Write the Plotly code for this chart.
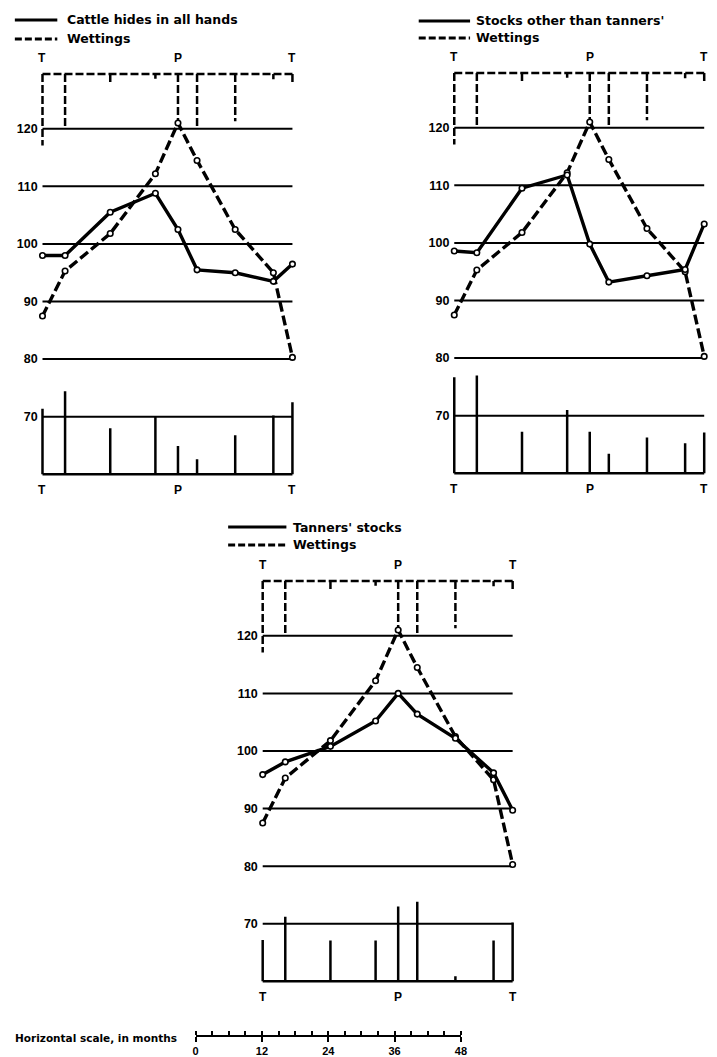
import plotly.graph_objects as go

# ---------------- data ----------------
stages = ["I", "II", "III", "IV", "V", "VI", "VII", "VIII", "IX"]
expansion_months = 24.5
contraction_months = 20.7

wettings = [87.5, 95.3, 101.8, 112.2, 121.0, 114.5, 102.5, 95.0, 80.3]
wettings_avg_dev = [12.4, 9.4, 1.9, 0.8, 9.0, 9.0, 8.2, 0.9, 1.7]

cattle_hides = [98.0, 98.0, 105.5, 108.8, 102.5, 95.5, 95.0, 93.5, 96.5]
cattle_hides_avg_dev = [11.4, 14.4, 8.0, 10.0, 4.9, 2.6, 6.8, 10.2, 12.5]

other_stocks = [98.6, 98.3, 109.5, 111.8, 99.8, 93.2, 94.3, 95.4, 103.3]
other_stocks_avg_dev = [16.7, 17.0, 7.2, 11.0, 7.2, 3.4, 6.2, 5.2, 7.1]

tanners_stocks = [95.9, 98.1, 100.8, 105.2, 110.0, 106.4, 102.2, 96.2, 89.7]
tanners_stocks_avg_dev = [7.2, 11.2, 7.1, 7.1, 13.0, 13.8, 0.9, 7.1, 10.2]

series_names = ["Cattle hides in all hands", "Stocks other than tanners'", "Tanners' stocks"]
series_values = [cattle_hides, other_stocks, tanners_stocks]
series_devs = [cattle_hides_avg_dev, other_stocks_avg_dev, tanners_stocks_avg_dev]

grid_levels = [70, 80, 90, 100, 110, 120]
grid_labels = ["70", "80", "90", "100", "110", "120"]
top_base = 129.5       # baseline from which wettings avg deviations hang
bottom_base = 60.0     # baseline from which stocks avg deviations rise
turn_labels = ["T", "P", "T"]
scale_ticks = [0, 12, 24, 36, 48]
scale_title = "Horizontal scale, in months"

# ---------------- layout constants ----------------
W, H = 717, 1057
PX_MONTH = 5.6
PX_UNIT = 5.77
XPAD = 0.7
Y_LO, Y_HI = 54, 134
FONT = "Liberation Sans"
FONT_WIDE = "DejaVu Sans"

# pixel anchor of (month 0, value 120) for each panel
anchors = [(40, 129), (457, 128), (263, 637)]
# legend: (line x0, line x1, y solid, y dashed, text x) in pixels
legend_pos = [(12, 55, 20, 39, 63), (421, 473, 21, 38, 477), (228, 287, 528, 546, 292)]

E, C = expansion_months, contraction_months
total = E + C
stage_x = [0, E / 6, E / 2, 5 * E / 6, E, E + C / 6, E + C / 2, E + 5 * C / 6, E + C]
turn_x = [0, E, total]

fig = go.Figure()
shapes = []
annotations = []


def px_x(p):
    return p / W


def px_y(p):
    return 1 - p / H


for i in range(3):
    n = i + 1
    xa = "x" if n == 1 else f"x{n}"
    ya = "y" if n == 1 else f"y{n}"
    ax0, ay0 = anchors[i]
    xd = [px_x(ax0 - XPAD * PX_MONTH), px_x(ax0 + (total + XPAD) * PX_MONTH)]
    yd = [px_y(ay0 + (120 - Y_LO) * PX_UNIT), px_y(ay0 - (Y_HI - 120) * PX_UNIT)]
    fig.update_layout(**{
        f"xaxis{'' if n == 1 else n}": dict(domain=xd, range=[-XPAD, total + XPAD], visible=False,
                                            anchor=ya, fixedrange=True),
        f"yaxis{'' if n == 1 else n}": dict(domain=yd, range=[Y_LO, Y_HI], anchor=xa,
                                            showgrid=False, zeroline=False, showline=False,
                                            ticks="", tickvals=grid_levels, ticktext=grid_labels,
                                            tickfont=dict(family=FONT, size=12.5, color="black",
                                                          weight="bold"),
                                            fixedrange=True),
    })

    # gridlines
    gx, gy = [], []
    for lv in grid_levels:
        gx += [0, total, None]
        gy += [lv, lv, None]
    fig.add_trace(go.Scatter(x=gx, y=gy, xaxis=xa, yaxis=ya, mode="lines",
                             line=dict(color="black", width=2), hoverinfo="skip",
                             showlegend=False))

    # top: wettings average deviations (dashed)
    tx, ty = [0, total, None], [top_base, top_base, None]
    for sx, d in zip(stage_x, wettings_avg_dev):
        tx += [sx, sx, None]
        ty += [top_base, top_base - d, None]
    fig.add_trace(go.Scatter(x=tx, y=ty, xaxis=xa, yaxis=ya, mode="lines",
                             line=dict(color="black", width=2.5, dash="8px,3px"),
                             hoverinfo="skip", showlegend=False))

    # bottom: stocks average deviations (solid)
    bx, by = [0, total, None], [bottom_base, bottom_base, None]
    for sx, d in zip(stage_x, series_devs[i]):
        bx += [sx, sx, None]
        by += [bottom_base, bottom_base + d, None]
    fig.add_trace(go.Scatter(x=bx, y=by, xaxis=xa, yaxis=ya, mode="lines",
                             line=dict(color="black", width=2.5),
                             hoverinfo="skip", showlegend=False))

    # wettings pattern
    fig.add_trace(go.Scatter(x=stage_x, y=wettings, xaxis=xa, yaxis=ya, mode="lines+markers",
                             name="Wettings", text=stages,
                             line=dict(color="black", width=3.4, dash="10px,4px"),
                             marker=dict(symbol="circle", size=5.5, color="white",
                                         line=dict(color="black", width=1.6)),
                             cliponaxis=False, showlegend=False))
    # stocks pattern
    fig.add_trace(go.Scatter(x=stage_x, y=series_values[i], xaxis=xa, yaxis=ya,
                             mode="lines+markers", name=series_names[i], text=stages,
                             line=dict(color="black", width=3.4),
                             marker=dict(symbol="circle", size=5.5, color="white",
                                         line=dict(color="black", width=1.6)),
                             cliponaxis=False, showlegend=False))

    # turning-point labels
    for tx_, lab in zip(turn_x, turn_labels):
        annotations.append(dict(x=tx_, y=top_base + 1.3, xref=xa, yref=ya, text=lab,
                                showarrow=False, yanchor="bottom",
                                font=dict(family=FONT, size=12, color="black", weight="bold")))
        annotations.append(dict(x=tx_, y=bottom_base - 1.2, xref=xa, yref=ya, text=lab,
                                showarrow=False, yanchor="top",
                                font=dict(family=FONT, size=12, color="black", weight="bold")))

    # legend
    lx0, lx1, ys, yd_, ltx = legend_pos[i]
    shapes.append(dict(type="line", xref="paper", yref="paper", x0=px_x(lx0), x1=px_x(lx1),
                       y0=px_y(ys), y1=px_y(ys), line=dict(color="black", width=3)))
    shapes.append(dict(type="line", xref="paper", yref="paper", x0=px_x(lx0), x1=px_x(lx1),
                       y0=px_y(yd_), y1=px_y(yd_), line=dict(color="black", width=3, dash="7px,3px")))
    annotations.append(dict(x=px_x(ltx), y=px_y(ys), xref="paper", yref="paper",
                            text=series_names[i], showarrow=False, xanchor="left", yanchor="middle",
                            font=dict(family=FONT_WIDE, size=12.5, color="black", weight="bold")))
    annotations.append(dict(x=px_x(ltx), y=px_y(yd_), xref="paper", yref="paper",
                            text="Wettings", showarrow=False, xanchor="left", yanchor="middle",
                            font=dict(family=FONT_WIDE, size=12.5, color="black", weight="bold")))

# horizontal scale bar
SCALE_X0, SCALE_Y = 195, 1037
fig.add_trace(go.Scatter(x=[0, 48], y=[0, 0], xaxis="x4", yaxis="y4", mode="markers",
                         marker=dict(opacity=0), hoverinfo="skip", showlegend=False))
fig.update_layout(
    xaxis4=dict(domain=[px_x(SCALE_X0), px_x(SCALE_X0 + 48 * PX_MONTH)], range=[0, 48],
                anchor="y4", showgrid=False, zeroline=False, showline=True,
                linecolor="black", linewidth=2, tickmode="array", tickvals=scale_ticks,
                ticktext=[str(t) for t in scale_ticks],
                ticks="outside", ticklen=5, tickwidth=2, tickcolor="black",
                minor=dict(dtick=3, tick0=0, ticks="inside", ticklen=4, tickwidth=1.5,
                           tickcolor="black", showgrid=False),
                tickfont=dict(family=FONT, size=11, color="black", weight="bold"),
                fixedrange=True),
    yaxis4=dict(domain=[px_y(SCALE_Y), px_y(SCALE_Y - 6)], range=[0, 1], visible=False,
                anchor="x4", fixedrange=True),
)
annotations.append(dict(x=px_x(178), y=px_y(1040), xref="paper", yref="paper", text=scale_title,
                        showarrow=False, xanchor="right", yanchor="middle",
                        font=dict(family=FONT_WIDE, size=10.5, color="black", weight="bold")))

fig.update_layout(width=W, height=H, margin=dict(l=0, r=0, t=0, b=0),
                  paper_bgcolor="white", plot_bgcolor="white",
                  shapes=shapes, annotations=annotations, showlegend=False)

fig.write_html("out.html",
               config={"displayModeBar": False, "staticPlot": False},
               post_script="document.body.style.margin='0';document.body.style.padding='0';"
                           "document.body.style.overflow='hidden';")
